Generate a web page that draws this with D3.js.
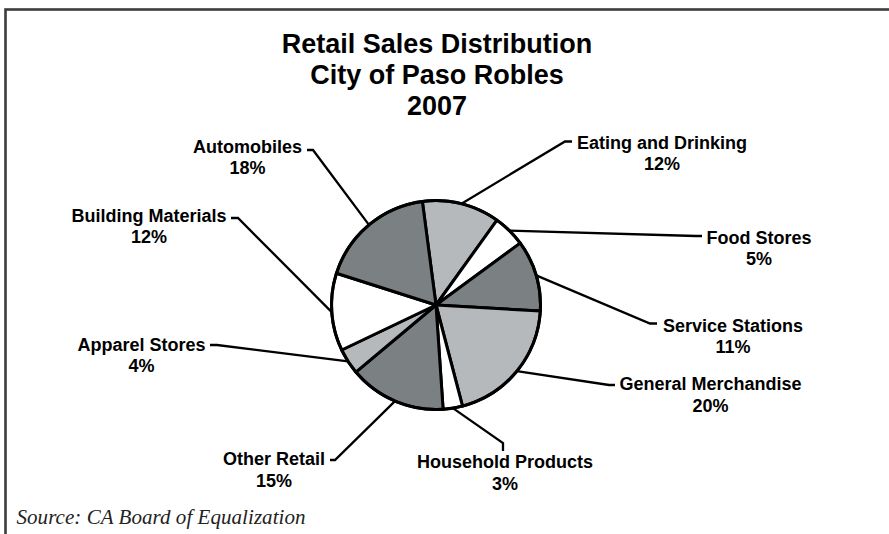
<!DOCTYPE html>
<html>
<head>
<meta charset="utf-8">
<script src="https://cdn.jsdelivr.net/npm/d3@7"></script>
<style>
  html, body { margin: 0; padding: 0; background: #fff; }
  svg { display: block; }
</style>
</head>
<body>
<svg id="chart" width="889" height="534"></svg>
<script>
// ---- data ----
const categories = ["Eating and Drinking", "Food Stores", "Service Stations", "General Merchandise",
  "Household Products", "Other Retail", "Apparel Stores", "Building Materials", "Automobiles"];
const values = [12, 5, 11, 20, 3, 15, 4, 12, 18];
const titleLines = ["Retail Sales Distribution", "City of Paso Robles", "2007"];
const sourceText = "Source: CA Board of Equalization";

// ---- styles / layout ----
const shade = { dark: "#7b8083", light: "#b5b9bc", white: "#ffffff" };
const sliceShade = ["light", "white", "dark", "light", "white", "dark", "light", "white", "dark"];
// label layout: text center x, first baseline y, leader elbow, dash end
const labelLayout = [
  { tx: 662, ty: 148.5, elbow: [565, 141.5], end: [572, 141.5] },
  { tx: 759, ty: 243.5, elbow: [696, 236], end: [702, 236] },
  { tx: 733, ty: 331.5, elbow: [650, 323.5], end: [657, 323.5] },
  { tx: 710.5, ty: 390, elbow: [609, 385], end: [615, 385] },
  { tx: 505, ty: 468, elbow: [503, 443], end: [503, 451] },
  { tx: 274, ty: 465, elbow: [335, 460], end: [330, 460] },
  { tx: 141.5, ty: 350.5, elbow: [217, 345], end: [210, 345] },
  { tx: 149, ty: 221.5, elbow: [238, 218], end: [231, 218] },
  { tx: 247.5, ty: 152.5, elbow: [313, 150], end: [307, 150] }
];

const svg = d3.select("#chart");
const cx = 436, cy = 305, R = 104.5;

// frame
svg.append("rect")
  .attr("x", 5.5).attr("y", 9.5).attr("width", 1000).attr("height", 1000)
  .attr("fill", "none").attr("stroke", "#3c3c3c").attr("stroke-width", 2.6);

// title
const title = svg.append("text")
  .attr("text-anchor", "middle")
  .attr("font-family", "Liberation Sans, Arial, sans-serif")
  .attr("font-weight", "bold").attr("font-size", 27).attr("fill", "#000");
titleLines.forEach((t, i) => {
  title.append("tspan").attr("x", 437).attr("y", 52.5 + i * 31).text(t);
});

// pie
const start = -7.5 * Math.PI / 180;
const pie = d3.pie().sort(null).value(d => d.v).startAngle(start).endAngle(start + 2 * Math.PI);
const data = categories.map((c, i) => ({ c, v: values[i], i }));
const arcs = pie(data);
const arc = d3.arc().innerRadius(0).outerRadius(R);

const g = svg.append("g").attr("transform", `translate(${cx},${cy})`);

// leader lines (drawn under pie)
const leaders = svg.append("g");
arcs.forEach(a => {
  const mid = (a.startAngle + a.endAngle) / 2;
  const px = cx + R * Math.sin(mid), py = cy - R * Math.cos(mid);
  const L = labelLayout[a.data.i];
  leaders.append("path")
    .attr("d", d3.line()([[px, py], L.elbow, L.end]))
    .attr("fill", "none").attr("stroke", "#000").attr("stroke-width", 2.3)
    .attr("stroke-linejoin", "miter");
});

g.selectAll("path.slice").data(arcs).join("path")
  .attr("class", "slice")
  .attr("d", arc)
  .attr("fill", d => shade[sliceShade[d.data.i]])
  .attr("stroke", "#000").attr("stroke-width", 3).attr("stroke-linejoin", "round");

g.append("circle").attr("r", R).attr("fill", "none").attr("stroke", "#000").attr("stroke-width", 3);

// labels
const labels = svg.append("g")
  .attr("font-family", "Liberation Sans, Arial, sans-serif")
  .attr("font-weight", "bold").attr("font-size", 18).attr("fill", "#000")
  .attr("text-anchor", "middle");
arcs.forEach(a => {
  const L = labelLayout[a.data.i];
  const t = labels.append("text");
  t.append("tspan").attr("x", L.tx).attr("y", L.ty).text(a.data.c);
  t.append("tspan").attr("x", L.tx).attr("y", L.ty + 21.5).text(a.data.v + "%");
});

// source
svg.append("text")
  .attr("x", 16.5).attr("y", 524)
  .attr("font-family", "Liberation Serif, Times New Roman, serif")
  .attr("font-style", "italic").attr("font-size", 21).attr("fill", "#222")
  .attr("textLength", 289).attr("lengthAdjust", "spacing")
  .text(sourceText);
</script>
</body>
</html>
